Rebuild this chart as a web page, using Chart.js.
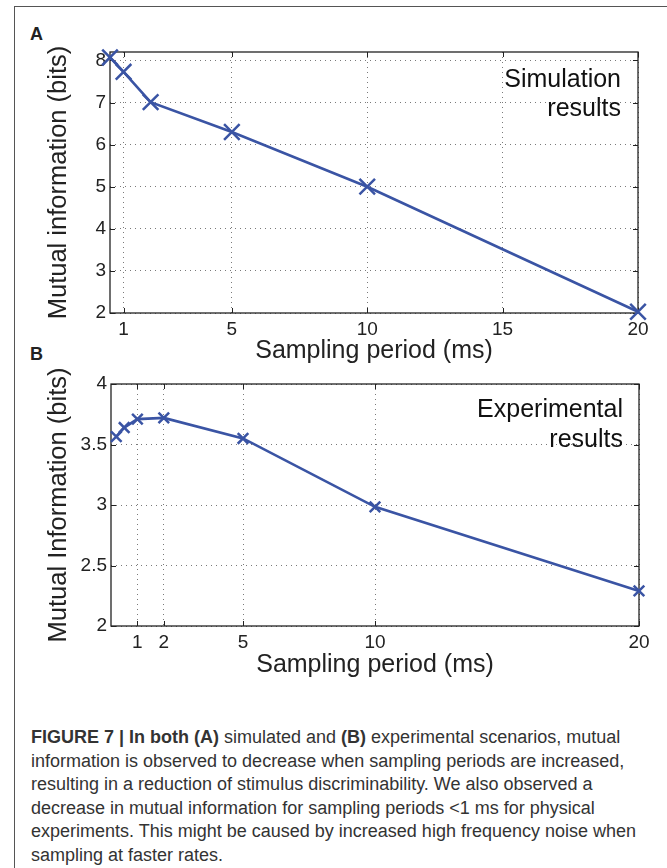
<!DOCTYPE html>
<html>
<head>
<meta charset="utf-8">
<title>Figure 7</title>
<script src="https://cdn.jsdelivr.net/npm/chart.js@4.4.0/dist/chart.umd.min.js"></script>
<style>
  html, body { margin: 0; padding: 0; background: #fff; }
  body { width: 667px; height: 868px; position: relative; overflow: hidden;
         font-family: "Liberation Sans", Arial, Helvetica, sans-serif; color: #222; }
  #frame { position: absolute; left: 14px; top: 6px; width: 720px; height: 900px;
           border-top: 1px solid #555; border-left: 1px solid #555; }
  .panel { position: absolute; font-weight: bold; font-size: 18px; line-height: 18px; }
  canvas { position: absolute; left: 0; }
  #caption { position: absolute; left: 31px; top: 726px; font-size: 18px; line-height: 23.5px;
             white-space: pre; color: #333; }
</style>
</head>
<body>
<div id="frame"></div>
<div class="panel" style="left:30px; top:25px;">A</div>
<div class="panel" style="left:30px; top:345px;">B</div>
<canvas id="chartA" width="667" height="370" style="top:0"></canvas>
<canvas id="chartB" width="667" height="330" style="top:360px"></canvas>
<div id="caption"><b>FIGURE 7 | In both (A)</b> simulated and <b>(B)</b> experimental scenarios, mutual
information is observed to decrease when sampling periods are increased,
resulting in a reduction of stimulus discriminability. We also observed a
decrease in mutual information for sampling periods &lt;1 ms for physical
experiments. This might be caused by increased high frequency noise when
sampling at faster rates.</div>

<script>
// Panel A - simulation
const periodsA = [0.5, 1, 2, 5, 10, 20];
const infoA = [8.07, 7.73, 7.01, 6.30, 5.00, 2.03];
const xTicksA = [1, 5, 10, 15, 20];
const yTicksA = [2, 3, 4, 5, 6, 7, 8];

// Panel B - experiment
const periodsB = [0.2, 0.5, 1, 2, 5, 10, 20];
const infoB = [3.565, 3.64, 3.71, 3.72, 3.55, 2.985, 2.29];
const xTicksB = [1, 2, 5, 10, 20];
const yTicksB = [2, 2.5, 3, 3.5, 4];

const BLUE = '#3a54a4';
const FONT = '"Liberation Sans", Arial, Helvetica, sans-serif';

// draws the matlab style box, inward ticks and the corner note
const matlabBox = {
    id: 'matlabBox',
    beforeDatasetsDraw(chart, args, o) {
        const ctx = chart.ctx;
        const a = chart.chartArea;
        const sx = chart.scales.x, sy = chart.scales.y;
        ctx.save();
        ctx.strokeStyle = '#222';
        ctx.lineWidth = 1.3;
        ctx.strokeRect(a.left, a.top, a.right - a.left, a.bottom - a.top);

        const len = 5;
        ctx.beginPath();
        sx.ticks.forEach(t => {
            const px = Math.round(sx.getPixelForValue(t.value)) + 0.5;
            ctx.moveTo(px, a.bottom); ctx.lineTo(px, a.bottom - len);
            ctx.moveTo(px, a.top); ctx.lineTo(px, a.top + len);
        });
        sy.ticks.forEach(t => {
            const py = Math.round(sy.getPixelForValue(t.value)) + 0.5;
            ctx.moveTo(a.left, py); ctx.lineTo(a.left + len, py);
            ctx.moveTo(a.right, py); ctx.lineTo(a.right - len, py);
        });
        ctx.lineWidth = 1;
        ctx.stroke();

        ctx.fillStyle = '#111';
        ctx.font = '25px ' + FONT;
        ctx.textAlign = 'right';
        ctx.textBaseline = 'alphabetic';
        o.lines.forEach((s, i) => {
            ctx.fillText(s, a.right - o.dx, a.top + o.dy + i * o.gap);
        });
        ctx.restore();
    }
};

function makeChart(id, xs, ys, xTicks, yTicks, cfg) {
    const canvas = document.getElementById(id);
    if (!canvas) return;
    return new Chart(canvas.getContext('2d'), {
        type: 'line',
        data: {
            datasets: [{
                data: xs.map((x, i) => ({ x: x, y: ys[i] })),
                borderColor: BLUE,
                backgroundColor: BLUE,
                borderWidth: 2.6,
                pointStyle: 'crossRot',
                pointRadius: cfg.markerSize,
                pointBorderWidth: 2.5,
                pointBorderColor: BLUE,
                tension: 0,
                clip: false
            }]
        },
        options: {
            responsive: false,
            animation: false,
            devicePixelRatio: 1,
            layout: { padding: { left: 0, top: cfg.padTop, right: cfg.padRight, bottom: 0 } },
            plugins: {
                legend: { display: false },
                tooltip: { enabled: false },
                matlabBox: cfg.note
            },
            scales: {
                x: {
                    type: 'linear',
                    min: cfg.xMin,
                    max: cfg.xMax,
                    afterBuildTicks: s => { s.ticks = xTicks.map(v => ({ value: v })); },
                    afterFit: s => { s.height = cfg.xHeight; },
                    grid: { color: '#7a7a7a', lineWidth: 1, drawTicks: false },
                    border: { display: false, dash: [1, 4] },
                    ticks: {
                        autoSkip: false, maxRotation: 0, padding: 5, color: '#222',
                        font: { family: FONT, size: 19 },
                        callback: v => String(v)
                    },
                    title: {
                        display: true, text: 'Sampling period (ms)', color: '#222',
                        font: { family: FONT, size: 25 },
                        padding: { top: 0, bottom: cfg.xTitlePad }
                    }
                },
                y: {
                    min: cfg.yMin,
                    max: cfg.yMax,
                    afterBuildTicks: s => { s.ticks = yTicks.map(v => ({ value: v })); },
                    afterFit: s => { s.width = cfg.yWidth; },
                    grid: { color: '#7a7a7a', lineWidth: 1, drawTicks: false },
                    border: { display: false, dash: [1, 4] },
                    ticks: {
                        padding: 4, color: '#222',
                        font: { family: FONT, size: 19 },
                        callback: v => String(v)
                    },
                    title: {
                        display: true, text: cfg.yTitle, color: '#222',
                        font: { family: FONT, size: 25.5 },
                        padding: { top: 44, bottom: 0 }
                    }
                }
            }
        },
        plugins: [matlabBox]
    });
}

makeChart('chartA', periodsA, infoA, xTicksA, yTicksA, {
    xMin: 0.5, xMax: 20, yMin: 2, yMax: 8.2,
    padTop: 52, padRight: 29, yWidth: 110, xHeight: 57, xTitlePad: 4,
    markerSize: 11,
    yTitle: 'Mutual information (bits)',
    note: { lines: ['Simulation', 'results'], dx: 17, dy: 35, gap: 28.5 }
});

makeChart('chartB', periodsB, infoB, xTicksB, yTicksB, {
    xMin: 0, xMax: 20, yMin: 2, yMax: 4,
    padTop: 24, padRight: 28, yWidth: 111, xHeight: 64, xTitlePad: 10,
    markerSize: 7.5,
    yTitle: 'Mutual Information (bits)',
    note: { lines: ['Experimental', 'results'], dx: 16, dy: 33, gap: 29.5 }
});
</script>
</body>
</html>
